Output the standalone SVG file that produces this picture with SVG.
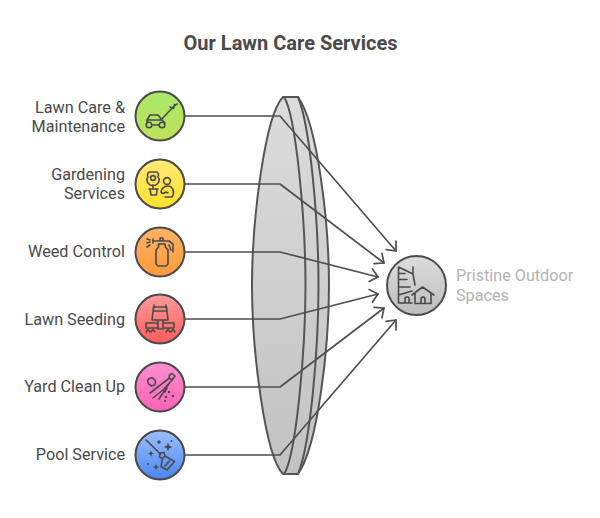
<svg xmlns="http://www.w3.org/2000/svg" width="600" height="518" viewBox="0 0 600 518">
<style>
text{font-family:Roboto,"Liberation Sans",sans-serif}
.t{font-size:16.200px;fill:#4a4a4a;text-anchor:end}
.c{stroke:#4a4a4a;stroke-width:2}
.i{fill:none;stroke:#4a4a4a;stroke-width:1.600;stroke-linejoin:round;stroke-linecap:round}
.k{fill:none;stroke:#4f4f4f;stroke-width:1.700;stroke-linejoin:round;stroke-linecap:round}
.e{fill:none;stroke:#555;stroke-width:2;stroke-linejoin:round}
</style>
<defs>
<linearGradient id="gg" x1="0" y1="0" x2="0" y2="1"><stop offset="0" stop-color="#dcdcdc"/><stop offset="1" stop-color="#c2c2c2"/></linearGradient>
<linearGradient id="g1" x1="0" y1="0" x2="0" y2="1"><stop offset="0" stop-color="#a9e86a"/><stop offset="1" stop-color="#bfe25a"/></linearGradient>
<linearGradient id="g2" x1="0" y1="0" x2="0" y2="1"><stop offset="0" stop-color="#ffe977"/><stop offset="1" stop-color="#ffe02a"/></linearGradient>
<linearGradient id="g3" x1="0" y1="0" x2="0" y2="1"><stop offset="0" stop-color="#ffb366"/><stop offset="1" stop-color="#ff9a3c"/></linearGradient>
<linearGradient id="g4" x1="0" y1="0" x2="0" y2="1"><stop offset="0" stop-color="#ff9c9c"/><stop offset="1" stop-color="#ff5c5c"/></linearGradient>
<linearGradient id="g5" x1="0" y1="0" x2="0" y2="1"><stop offset="0" stop-color="#ff8fd0"/><stop offset="1" stop-color="#ff62b4"/></linearGradient>
<linearGradient id="g6" x1="0" y1="0" x2="0" y2="1"><stop offset="0" stop-color="#9cc0ff"/><stop offset="1" stop-color="#4a86f0"/></linearGradient>
<linearGradient id="g7" x1="0" y1="0" x2="0" y2="1"><stop offset="0" stop-color="#dcdcdc"/><stop offset="1" stop-color="#bdbdbd"/></linearGradient>
<marker id="a" viewBox="0 0 12 16" refX="11" refY="8" markerWidth="12" markerHeight="16" markerUnits="userSpaceOnUse" orient="auto"><path d="M3.500 1.500L11 8L3.500 14.500" fill="none" stroke="#4f4f4f" stroke-width="1.700" stroke-linecap="round" stroke-linejoin="round"/></marker>
</defs>
<text x="290.500" y="50" fill="#4a4a4a" font-weight="700" text-anchor="middle" style="font-size:20px">Our Lawn Care Services</text>

<g id="lens">
<path d="M283 97H298C318 125 329 225 329 285.500C329 346 318 446 298 474H283C265 456 252 351 252 285.500C252 220 265 115 283 97Z" fill="url(#gg)" stroke="none"/>
<path class="e" d="M298 97C318 125 329 225 329 285.500C329 346 318 446 298 474H283C265 456 252 351 252 285.500C252 220 265 115 283 97Z"/>
<path class="e" d="M283 97H298C310 125 318.500 220 318.500 285.500C318.500 351 310 446 298 474"/>
<path class="e" d="M284 97C296 115 305.500 220 305.500 285.500C305.500 351 296 456 284 474"/>
</g>

<g id="connectors">
<path class="k" marker-end="url(#a)" d="M185 116H280L396 251"/>
<path class="k" marker-end="url(#a)" d="M185 184H280L384 263"/>
<path class="k" marker-end="url(#a)" d="M185 252H280L378 277"/>
<path class="k" marker-end="url(#a)" d="M185 319H280L378 294"/>
<path class="k" marker-end="url(#a)" d="M185 387H280L384 308"/>
<path class="k" marker-end="url(#a)" d="M185 455H280L396 320"/>
</g>

<g id="n1">
<circle class="c" cx="160" cy="116" r="24.500" fill="url(#g1)"/>
<g class="i"><path d="M162 119L174 106M170 107L173.500 108.500L174.500 104.500M174 106L177 104"/><path d="M147 123V120L150 115H158L162 120H147M162 120L165 123M152 125H159"/><circle cx="149" cy="125" r="2.800"/><circle cx="162" cy="125" r="2.800"/></g>
<text class="t" x="125" y="113">Lawn Care &amp;</text><text class="t" x="125" y="132">Maintenance</text>
</g>
<g id="n2">
<circle class="c" cx="160" cy="184" r="24.500" fill="url(#g2)"/>
<g class="i"><path d="M150 172H156C158.500 172 159 175 158 177C160 179 159 183 157 184C156 186 150 186 149 184C147 183 146 179 148 177C147 175 147.500 172 150 172Z"/><circle cx="153" cy="178" r="2.400"/><path d="M153 185V189M149 189H158M150 189L151 195H156.500L157 189"/><circle cx="167" cy="181" r="3.400"/><path d="M165 197H172C175 193 173 186 168 186C164 186 161 189 161 192C162 195 166 192 166 192L168 193"/></g>
<text class="t" x="125" y="180">Gardening</text><text class="t" x="125" y="199">Services</text>
</g>
<g id="n3">
<circle class="c" cx="160" cy="252" r="24.500" fill="url(#g3)"/>
<g class="i"><path d="M158.500 244H165L165.500 247L168 250V264L166 266H158L156 264V250L158.500 247Z"/><path d="M153 241H169L173 244V252M169 245L171 250M160 241V238H163V241M153 239V243M150 240L147 239M150 242L147 243M150 245L147 247"/></g>
<text class="t" x="125" y="257">Weed Control</text>
</g>
<g id="n4">
<circle class="c" cx="160" cy="319" r="24.500" fill="url(#g4)"/>
<g class="i"><path d="M154 305V308M166 305V308M154 307H166M154 311H166M153.500 307L152 320M166.500 307L168 320M152 320H168M158 320V329M163 320V329M158 329H163M158 323H146V328H158M163 323H174V328H163M146 332L148 329.500L150 332M151 332L153 329.500L155 332M166 332L168 329.500L170 332M171 332L173 329.500L175 332"/></g>
<text class="t" x="125" y="325">Lawn Seeding</text>
</g>
<g id="n5">
<circle class="c" cx="160" cy="387" r="24.500" fill="url(#g5)"/>
<g class="i"><path d="M147.500 381C148 378 152 377 154 379C156 381 156 384 154 385C152 387 148 385 147.500 381Z"/><path d="M169.500 375L172 373.500L175 376L172 380L169 378ZM169.500 378L150 393M172 380L163 390L153 398M170 382L159 399M167 388L165 392"/></g>
<g fill="#4a4a4a"><circle cx="169" cy="392" r="1.300"/><circle cx="166" cy="397" r="1.300"/><circle cx="173" cy="396" r="1.300"/><circle cx="165" cy="401" r="1.100"/></g>
<text class="t" x="125" y="392">Yard Clean Up</text>
</g>
<g id="n6">
<circle class="c" cx="160" cy="455" r="24.500" fill="url(#g6)"/>
<g class="i"><path d="M146 440L160.500 454"/><path d="M160 453L164 452.500L165 456L162.500 458.500L159.500 457ZM165 456L174.500 461.500L167 470L161 466.500C161.500 463 162 461 162.500 458.500M169.500 461L165 466"/></g>
<g fill="#4a4a4a"><path d="M168 442.500l1.200 3.300 3.300 1.200-3.300 1.200-1.200 3.300-1.200-3.300-3.300-1.200 3.300-1.200zM151 450.500l.9 2.200 2.200.9-2.200.9-.9 2.200-.9-2.200-2.200-.9 2.200-.9zM156 464l.9 2.200 2.200.9-2.200.9-.9 2.200-.9-2.200-2.200-.9 2.200-.9z"/><circle cx="159" cy="442" r="1.700"/><circle cx="171.500" cy="441" r="1"/><circle cx="148" cy="464" r="1"/></g>
<text class="t" x="125" y="460">Pool Service</text>
</g>
<g id="target">
<circle class="c" cx="416.500" cy="285.500" r="29.500" fill="url(#g7)"/>
<g class="i"><path d="M398.500 267V303H412M398.500 267L413 274L415 285M413 267V274M398.500 273.500H405M398.500 279.500H407M398.500 287H410M398.500 295L412 291M405 303V298.500C405 296.500 409 296.500 409 298.500V303"/><path d="M412 295L422.500 287L434 295M415 293V303.500H431V293M421 303.500V299C421 296.500 425 296.500 425 299V303.500"/></g>
<text x="456" y="281" style="font-size:16.200px" fill="#b3b3b3">Pristine Outdoor</text><text x="456" y="301" style="font-size:16.200px" fill="#b3b3b3">Spaces</text>
</g>
</svg>
